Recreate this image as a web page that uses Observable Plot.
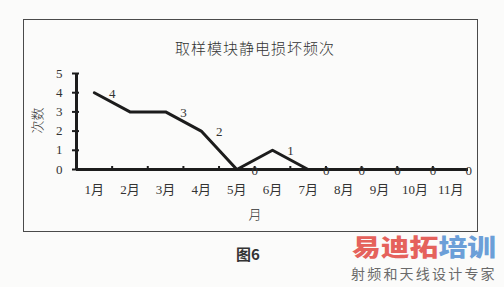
<!DOCTYPE html>
<html><head><meta charset="utf-8">
<script src="https://cdn.jsdelivr.net/npm/d3@7"></script>
<script src="https://cdn.jsdelivr.net/npm/@observablehq/plot@0.6"></script>
<style>
html,body{margin:0;padding:0;background:#fbfbfa;}
#wrap{position:relative;width:504px;height:287px;overflow:hidden;background:#fbfbfa;font-family:"Noto Sans CJK SC",sans-serif;}
.abs{position:absolute;white-space:nowrap;}
#frame{left:23px;top:19px;width:453px;height:211px;border:1px solid #4a4a4a;}
#title{left:0;width:510px;top:37px;text-align:center;font-size:15px;font-weight:300;letter-spacing:1px;color:#333;}
#plot{left:0;top:0;}
#xlab{left:245px;top:204px;font-size:13px;font-weight:300;color:#333;width:20px;text-align:center;}
#ylab{left:21px;top:111px;font-size:13px;font-weight:300;color:#333;transform:rotate(-90deg);transform-origin:center;width:30px;text-align:center;}
#fig{left:228px;top:243px;width:40px;text-align:center;font-size:15px;font-weight:bold;color:#333;}
#wm1{left:352px;top:232px;font-size:24px;font-weight:900;letter-spacing:0px;transform:scaleX(1.2);transform-origin:left top;line-height:28px;}
#wm2{left:351px;top:264px;font-size:14px;letter-spacing:2.2px;color:#6a6a6a;line-height:18px;}
</style></head>
<body>
<div id="wrap">
  <div id="frame" class="abs"></div>
  <div id="title" class="abs"></div>
  <div id="plot" class="abs"></div>
  <div id="xlab" class="abs"></div>
  <div id="ylab" class="abs"></div>
  <div id="fig" class="abs"></div>
  <div id="wm1" class="abs"><span style="color:#e5625c">易迪拓</span><span style="color:#6c9fd8">培训</span></div>
  <div id="wm2" class="abs">射频和天线设计专家</div>
</div>
<script>
const title = "取样模块静电损坏频次";
const months = ["1月","2月","3月","4月","5月","6月","7月","8月","9月","10月","11月"];
const counts = [4,3,3,2,0,1,0,0,0,0,0];
const pointLabels = ["4","","3","2","0","1","0","0","0","0","0"];
const yTicks = [0,1,2,3,4,5];
const xLabel = "月";
const yLabel = "次数";
const figLabel = "图6";

document.getElementById("title").textContent = title;
document.getElementById("xlab").textContent = xLabel;
document.getElementById("ylab").textContent = yLabel;
document.getElementById("fig").textContent = figLabel;

const idx = months.map((m,i)=>i+1);
const bounds = months.slice(0,-1).map((m,i)=>i+1.5);
const serif = "'Liberation Serif','DejaVu Serif','Noto Sans CJK SC',serif";
const ink = "#1c1c1c";
const pts = counts.map((v,i)=>({x: i+1, v, label: pointLabels[i]}));

const chart = Plot.plot({
  width: 504, height: 287,
  marginLeft: 76, marginRight: 36, marginTop: 73, marginBottom: 118,
  style: {background: "transparent", fontFamily: serif, fontSize: "13px", color: "#333"},
  x: {type: "linear", domain: [0.5, months.length + 0.5]},
  y: {domain: [0, 5]},
  marks: [
    Plot.axisY({ticks: yTicks, tickSize: 4, tickPadding: 10, tickFormat: d => String(d), strokeWidth: 2, stroke: ink, label: null, fontSize: 13}),
    Plot.axisY({ticks: yTicks, tickSize: -3, strokeWidth: 2, stroke: ink, text: null, label: null}),
    Plot.axisX({ticks: bounds, tickSize: -3, strokeWidth: 2, stroke: ink, text: null, label: null}),
    Plot.axisX({ticks: idx, tickSize: 0, tickPadding: 15, tickFormat: i => months[i-1], label: null, fontSize: 13}),
    Plot.ruleX([0.5], {y1: 0, y2: 5, stroke: ink, strokeWidth: 3}),
    Plot.ruleY([0], {stroke: ink, strokeWidth: 3}),
    Plot.line(pts, {x: "x", y: "v", stroke: ink, strokeWidth: 3}),
    Plot.text(pts, {x: "x", y: "v", text: "label", dx: 18, dy: 1, fill: "#333", fontSize: 13})
  ]
});
document.getElementById("plot").appendChild(chart);
</script>
</body></html>
